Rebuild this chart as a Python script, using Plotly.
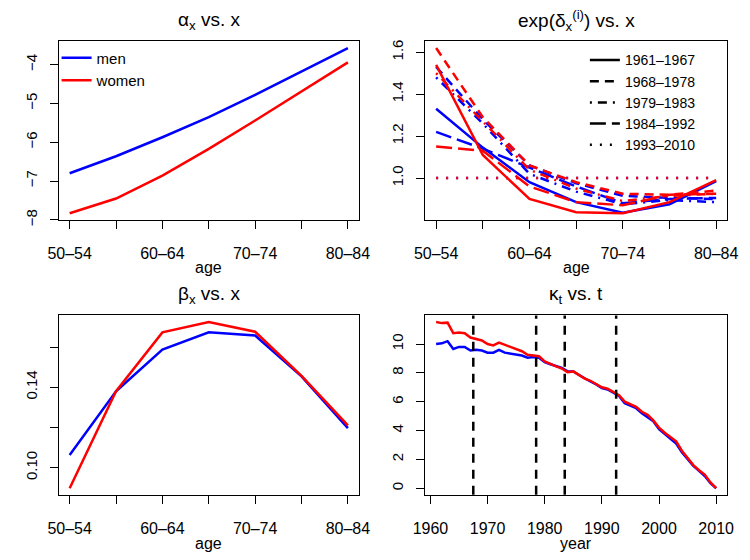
import plotly.graph_objects as go

# ---------------- data ----------------
ages = ["50–54", "55–59", "60–64", "65–69", "70–74", "75–79", "80–84"]
age_labels = ["50–54", "", "60–64", "", "70–74", "", "80–84"]

alpha_men = [-6.80, -6.36, -5.87, -5.35, -4.78, -4.18, -3.57]
alpha_women = [-7.83, -7.45, -6.86, -6.17, -5.44, -4.68, -3.94]

periods = ["1961–1967", "1968–1978", "1979–1983", "1984–1992", "1993–2010"]
delta_men_6167 = [1.33, 1.145, 0.98, 0.885, 0.835, 0.875, 0.985]
delta_men_6878 = [1.53, 1.28, 1.06, 0.975, 0.915, 0.905, 0.90]
delta_men_7983 = [1.48, 1.26, 1.02, 0.935, 0.875, 0.895, 0.885]
delta_men_8492 = [1.22, 1.14, 1.05, 0.96, 0.88, 0.90, 0.905]
delta_men_9310 = [1.0, 1.0, 1.0, 1.0, 1.0, 1.0, 1.0]
delta_women_6167 = [1.54, 1.11, 0.90, 0.837, 0.832, 0.885, 0.99]
delta_women_6878 = [1.62, 1.29, 1.06, 0.98, 0.925, 0.92, 0.94]
delta_women_7983 = [1.50, 1.27, 1.04, 0.95, 0.89, 0.915, 0.925]
delta_women_8492 = [1.15, 1.13, 0.96, 0.885, 0.87, 0.92, 0.925]
delta_women_9310 = [1.0, 1.0, 1.0, 1.0, 1.0, 1.0, 1.0]

beta_men = [0.1063, 0.138, 0.1587, 0.1673, 0.1657, 0.1454, 0.1197]
beta_women = [0.0898, 0.138, 0.1673, 0.1724, 0.1676, 0.1457, 0.121]

years = list(range(1961, 2011))
kappa_men = [10.0, 10.05, 10.2, 9.66, 9.8, 9.8, 9.55, 9.6, 9.55, 9.4,
             9.4, 9.6, 9.4, 9.35, 9.3, 9.2, 9.05, 9.1, 9.05, 8.75,
             8.6, 8.45, 8.35, 8.1, 8.1, 7.85, 7.6, 7.4, 7.2, 6.95,
             6.85, 6.6, 6.4, 5.9, 5.75, 5.55, 5.2, 4.95, 4.65, 4.1,
             3.75, 3.45, 3.1, 2.5, 2.05, 1.55, 1.2, 0.85, 0.35, 0.0]
kappa_women = [11.52, 11.45, 11.48, 10.75, 10.8, 10.75, 10.45, 10.35, 10.25, 10.0,
               9.9, 10.1, 9.95, 9.8, 9.6, 9.5, 9.25, 9.2, 9.15, 8.8,
               8.6, 8.45, 8.3, 8.05, 8.1, 7.85, 7.6, 7.45, 7.25, 7.0,
               6.9, 6.65, 6.45, 6.0, 5.8, 5.65, 5.3, 5.1, 4.7, 4.2,
               3.85, 3.55, 3.25, 2.6, 2.1, 1.6, 1.25, 0.95, 0.4, 0.0]
period_breaks = [1967.5, 1978.5, 1983.5, 1992.5]

# ---------------- style ----------------
BLUE = "#0000FF"
RED = "#FF0000"
LW = 2.5
DASHES = ["solid", "9px,6px", "2px,6px,9px,6px", "16px,6px", "2px,8px"]
FONT = "Liberation Sans, Arial, Helvetica, sans-serif"


def rpad(vals, f=0.04):
    lo, hi = min(vals), max(vals)
    d = (hi - lo) * f
    return [lo - d, hi + d]


fig = go.Figure()

# alpha
fig.add_trace(go.Scatter(x=ages, y=alpha_men, mode="lines", name="men",
                         line=dict(color=BLUE, width=LW), xaxis="x", yaxis="y",
                         legend="legend"))
fig.add_trace(go.Scatter(x=ages, y=alpha_women, mode="lines", name="women",
                         line=dict(color=RED, width=LW), xaxis="x", yaxis="y",
                         legend="legend"))

# delta
men_d = [delta_men_6167, delta_men_6878, delta_men_7983, delta_men_8492, delta_men_9310]
women_d = [delta_women_6167, delta_women_6878, delta_women_7983, delta_women_8492, delta_women_9310]
for i, p in enumerate(periods):
    fig.add_trace(go.Scatter(x=ages, y=men_d[i], mode="lines", showlegend=False,
                             line=dict(color=BLUE, width=LW, dash=DASHES[i]),
                             xaxis="x2", yaxis="y2"))
for i, p in enumerate(periods):
    fig.add_trace(go.Scatter(x=ages, y=women_d[i], mode="lines", showlegend=False,
                             line=dict(color=RED, width=LW, dash=DASHES[i]),
                             xaxis="x2", yaxis="y2"))
for i, p in enumerate(periods):
    fig.add_trace(go.Scatter(x=[None], y=[None], mode="lines", name=p,
                             line=dict(color="black", width=LW, dash=DASHES[i]),
                             xaxis="x2", yaxis="y2", legend="legend2"))

# beta
fig.add_trace(go.Scatter(x=ages, y=beta_men, mode="lines", showlegend=False,
                         line=dict(color=BLUE, width=LW), xaxis="x3", yaxis="y3"))
fig.add_trace(go.Scatter(x=ages, y=beta_women, mode="lines", showlegend=False,
                         line=dict(color=RED, width=LW), xaxis="x3", yaxis="y3"))

# kappa
fig.add_trace(go.Scatter(x=years, y=kappa_men, mode="lines", showlegend=False,
                         line=dict(color=BLUE, width=LW), xaxis="x4", yaxis="y4"))
fig.add_trace(go.Scatter(x=years, y=kappa_women, mode="lines", showlegend=False,
                         line=dict(color=RED, width=LW), xaxis="x4", yaxis="y4"))

for b in period_breaks:
    fig.add_shape(type="line", xref="x4", yref="y4 domain", x0=b, x1=b, y0=0, y1=1,
                  line=dict(color="black", width=LW, dash="9px,7px"))

# ---------------- axes ----------------
W, H = 750, 560
LX = [48 / W, 358 / W]
RX = [426 / W, 738 / W]
TY = [1 - 221 / H, 1 - 40 / H]
BY = [1 - 500 / H, 1 - 318 / H]

common = dict(showline=True, mirror=True, linecolor="black", linewidth=1,
              ticks="outside", ticklen=8, tickcolor="black", tickwidth=1,
              showgrid=False, zeroline=False)
xcom = dict(common, tickfont=dict(size=16, color="black"), ticklabelstandoff=11)
xcat = dict(xcom, type="category", tickvals=ages, ticktext=age_labels,
            range=[-0.24, 6.24])
ycom = dict(common, tickfont=dict(size=15, color="black"), tickangle=-90,
            ticklabelstandoff=7)

fig.update_layout(
    xaxis=dict(xcat, domain=LX, anchor="y"),
    yaxis=dict(ycom, domain=TY, anchor="x", range=rpad(alpha_men + alpha_women),
               tickvals=[-8, -7, -6, -5, -4]),
    xaxis2=dict(xcat, domain=RX, anchor="y2"),
    yaxis2=dict(ycom, domain=TY, anchor="x2",
                range=rpad(sum(men_d, []) + sum(women_d, [])),
                tickvals=[0.8, 1.0, 1.2, 1.4, 1.6],
                ticktext=["0.8", "1.0", "1.2", "1.4", "1.6"]),
    xaxis3=dict(xcat, domain=LX, anchor="y3"),
    yaxis3=dict(ycom, domain=BY, anchor="x3", range=rpad(beta_men + beta_women),
                tickvals=[0.10, 0.12, 0.14, 0.16], ticktext=["0.10", "", "0.14", ""]),
    xaxis4=dict(xcom, domain=RX, anchor="y4", range=rpad(years),
                tickvals=[1960, 1970, 1980, 1990, 2000, 2010]),
    yaxis4=dict(ycom, domain=BY, anchor="x4", range=rpad(kappa_men + kappa_women),
                tickvals=[0, 2, 4, 6, 8, 10]),
)

# ---------------- titles ----------------
titles = [("α<sub>x</sub> vs. x", "x domain", 19),
          ("exp(δ<sub>x</sub><sup>(i)</sup>) vs. x", "x2 domain", 19),
          ("β<sub>x</sub> vs. x", "x3 domain", 297),
          ("κ<sub>t</sub> vs. t", "x4 domain", 297)]
for t, xr, yp in titles:
    fig.add_annotation(text=t, xref=xr, x=0.5, yref="paper", y=1 - yp / H,
                       showarrow=False, xanchor="center", yanchor="middle",
                       font=dict(size=19, color="black"))
xlabels = [("age", "x domain", 269), ("age", "x2 domain", 269),
           ("age", "x3 domain", 549), ("year", "x4 domain", 549)]
for t, xr, yp in xlabels:
    fig.add_annotation(text=t, xref=xr, x=0.5, yref="paper", y=1 - yp / H,
                       showarrow=False, xanchor="center", yanchor="middle",
                       font=dict(size=16, color="black"))

fig.update_layout(
    width=W, height=H, autosize=False,
    margin=dict(l=0, r=0, t=0, b=0),
    paper_bgcolor="white", plot_bgcolor="white",
    font=dict(family=FONT, size=15, color="black"),
    legend=dict(x=46 / W, y=1 - 40 / H, xanchor="left", yanchor="top",
                bgcolor="rgba(0,0,0,0)", font=dict(size=15), tracegroupgap=0),
    legend2=dict(x=591 / W, y=1 - 43 / H, xanchor="left", yanchor="top",
                 bgcolor="rgba(0,0,0,0)", font=dict(size=14), tracegroupgap=0),
)

fig.write_html("out.html")
